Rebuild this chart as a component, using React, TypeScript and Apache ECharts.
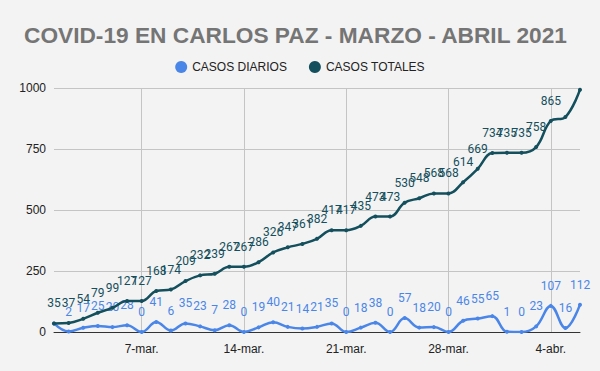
import React, { useEffect, useRef } from "react";
import * as echarts from "echarts";

const dates = [
  "1-mar.", "2-mar.", "3-mar.", "4-mar.", "5-mar.", "6-mar.", "7-mar.",
  "8-mar.", "9-mar.", "10-mar.", "11-mar.", "12-mar.", "13-mar.", "14-mar.",
  "15-mar.", "16-mar.", "17-mar.", "18-mar.", "19-mar.", "20-mar.", "21-mar.",
  "22-mar.", "23-mar.", "24-mar.", "25-mar.", "26-mar.", "27-mar.", "28-mar.",
  "29-mar.", "30-mar.", "31-mar.", "1-abr.", "2-abr.", "3-abr.", "4-abr.",
  "5-abr.", "6-abr.",
];

const casosDiarios = [
  35, 2, 17, 25, 20, 28, 0,
  41, 6, 35, 23, 7, 28, 0,
  19, 40, 21, 14, 21, 35, 0,
  18, 38, 0, 57, 18, 20, 0,
  46, 55, 65, 1, 0, 23, 107,
  16, 112,
];

const casosTotales = [
  35, 37, 54, 79, 99, 127, 127,
  168, 174, 209, 232, 239, 267, 267,
  286, 326, 347, 361, 382, 417, 417,
  435, 473, 473, 530, 548, 568, 568,
  614, 669, 734, 735, 735, 758, 865,
  881, 993,
];

// labels not drawn in the reference (hidden by overlap there)
const hiddenDiarios = [0];
const hiddenTotales = [35, 36];

const yTicks = [0, 250, 500, 750, 1000];

export default function App() {
  const ref = useRef<HTMLDivElement>(null);
  useEffect(() => {
    if (!ref.current) return;
    const chart = echarts.init(ref.current, null, { renderer: "svg" });
    const labelFont = { fontFamily: "Roboto", fontSize: 12 };
    const weekly = (idx: number) => idx % 7 === 6;
    const withHidden = (arr: number[], hidden: number[]) =>
      arr.map((v, i) => (hidden.includes(i) ? { value: v, label: { show: false } } : v));
    chart.setOption({
      animation: false,
      backgroundColor: "#f3f3f3",
      title: {
        text: "COVID-19 EN CARLOS PAZ - MARZO - ABRIL 2021",
        left: 19,
        top: 18,
        textStyle: {
          fontFamily: "Liberation Sans, Arial",
          fontWeight: "bold",
          fontSize: 22.7,
          lineHeight: 24,
          color: "#757575",
        },
      },
      legend: {
        top: 56,
        left: "center",
        icon: "circle",
        itemWidth: 12,
        itemHeight: 12,
        itemGap: 22,
        textStyle: {
          fontFamily: "Liberation Sans, Arial",
          fontSize: 12,
          color: "#222",
        },
        data: ["CASOS DIARIOS", "CASOS TOTALES"],
      },
      grid: { left: 54, right: 20, top: 88, bottom: 39 },
      xAxis: {
        type: "category",
        data: dates,
        boundaryGap: false,
        axisLine: { lineStyle: { color: "#333", width: 1 } },
        axisTick: { show: false },
        axisLabel: {
          interval: weekly,
          color: "#222",
          fontFamily: "Liberation Sans, Arial",
          fontSize: 12,
          margin: 11,
        },
        splitLine: {
          show: true,
          interval: weekly,
          lineStyle: { color: "#c4c4c4" },
        },
      },
      yAxis: {
        type: "value",
        min: yTicks[0],
        max: yTicks[yTicks.length - 1],
        interval: 250,
        axisLine: { show: false },
        axisTick: { show: false },
        axisLabel: {
          color: "#222",
          fontFamily: "Liberation Sans, Arial",
          fontSize: 12,
          margin: 8,
          formatter: (v: number) => String(v),
        },
        splitLine: { lineStyle: { color: "#c4c4c4" } },
      },
      series: [
        {
          name: "CASOS DIARIOS",
          type: "line",
          smooth: 0.4,
          data: withHidden(casosDiarios, hiddenDiarios),
          color: "#4a86e8",
          lineStyle: { width: 2.5 },
          symbol: "circle",
          symbolSize: 4,
          z: 2,
          label: {
            show: true,
            position: "top",
            distance: 12,
            color: "#4a86e8",
            ...labelFont,
          },
        },
        {
          name: "CASOS TOTALES",
          type: "line",
          smooth: 0.4,
          data: withHidden(casosTotales, hiddenTotales),
          color: "#134f5c",
          lineStyle: { width: 2.5 },
          symbol: "circle",
          symbolSize: 4,
          z: 3,
          label: {
            show: true,
            position: "top",
            distance: 12,
            color: "#134f5c",
            ...labelFont,
          },
        },
      ],
    });
    return () => chart.dispose();
  }, []);
  return <div ref={ref} style={{ width: 600, height: 371, position: "absolute", left: 0, top: 0 }} />;
}
